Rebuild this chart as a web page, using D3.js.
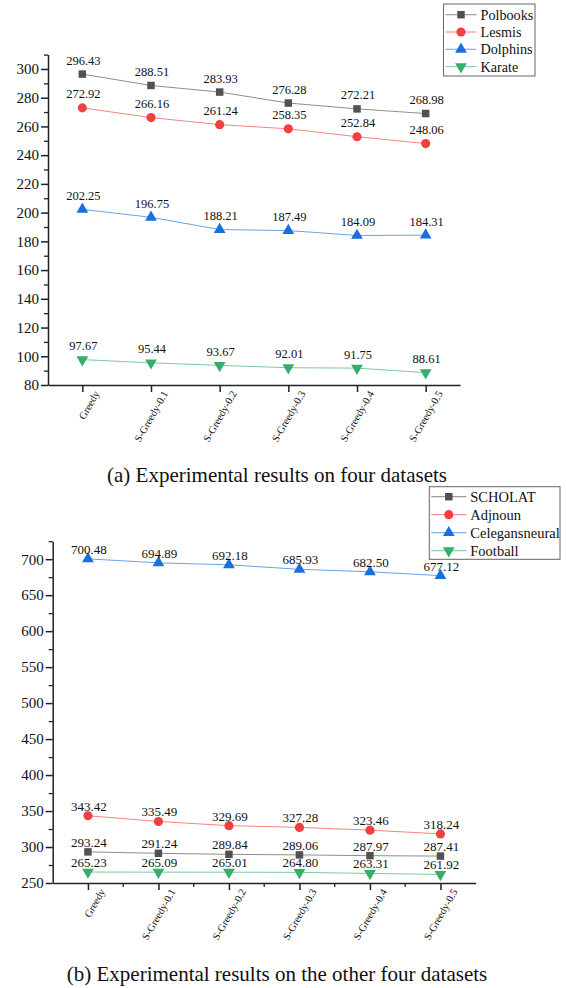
<!DOCTYPE html>
<html>
<head>
<meta charset="utf-8">
<script src="https://cdn.jsdelivr.net/npm/d3@7"></script>
<style>
    body { margin: 0; background: #fff; }
    text { font-family: "Liberation Serif", "Times New Roman", serif; fill: #111; }
</style>
</head>
<body>
<div id="chart"></div>
<script>
const categories = ["Greedy", "S-Greedy-0.1", "S-Greedy-0.2", "S-Greedy-0.3", "S-Greedy-0.4", "S-Greedy-0.5"];

// panel (a)
const polbooks = [296.43, 288.51, 283.93, 276.28, 272.21, 268.98];
const lesmis = [272.92, 266.16, 261.24, 258.35, 252.84, 248.06];
const dolphins = [202.25, 196.75, 188.21, 187.49, 184.09, 184.31];
const karate = [97.67, 95.44, 93.67, 92.01, 91.75, 88.61];
const ticksA = [80, 100, 120, 140, 160, 180, 200, 220, 240, 260, 280, 300];

// panel (b)
const scholat = [293.24, 291.24, 289.84, 289.06, 287.97, 287.41];
const adjnoun = [343.42, 335.49, 329.69, 327.28, 323.46, 318.24];
const celegansneural = [700.48, 694.89, 692.18, 685.93, 682.50, 677.12];
const football = [265.23, 265.09, 265.01, 264.80, 263.31, 261.92];
const ticksB = [250, 300, 350, 400, 450, 500, 550, 600, 650, 700];

const fmt = d3.format(".2f");
const colors = ["#515151", "#F14040", "#1A6FDF", "#37AD6B"];
const symbols = [
    {type: d3.symbolSquare, size: 56, rot: 0},
    {type: d3.symbolCircle, size: 66, rot: 0},
    {type: d3.symbolTriangle, size: 60, rot: 0},
    {type: d3.symbolTriangle, size: 60, rot: 180}
];

const svg = d3.select("#chart").append("svg")
    .attr("width", 566)
    .attr("height", 988);

function marker(sel, i, cx, cy) {
    const s = symbols[i];
    sel.append("path")
        .attr("d", d3.symbol().type(s.type).size(s.size)())
        .attr("transform", `translate(${cx},${cy}) rotate(${s.rot})`)
        .attr("fill", colors[i]);
}

function drawPanel(opt) {
    const x = d3.scalePoint().domain(categories).range([opt.left, opt.right]).padding(0.5);
    const y = d3.scaleLinear().domain(opt.yDomain).range([opt.bottom, opt.top]);
    const g = svg.append("g");

    // minor y ticks
    g.append("g")
        .attr("transform", `translate(${opt.left},0)`)
        .call(d3.axisLeft(y).tickValues(opt.minor).tickSize(4).tickFormat(""))
        .call(a => a.select(".domain").remove())
        .selectAll("line").attr("stroke", "#222").attr("stroke-width", 1.3);

    const yAxis = g.append("g")
        .attr("transform", `translate(${opt.left},0)`)
        .call(d3.axisLeft(y).tickValues(opt.ticks).tickSize(7).tickSizeOuter(0).tickPadding(2));
    yAxis.selectAll("text").attr("font-size", 15).attr("font-family", "Liberation Serif").attr("fill", "#111");
    yAxis.selectAll("line, path").attr("stroke", "#222").attr("stroke-width", 1.5);

    const xAxis = g.append("g")
        .attr("transform", `translate(0,${opt.bottom})`)
        .call(d3.axisBottom(x).tickSize(7).tickSizeOuter(0));
    xAxis.selectAll("line, path").attr("stroke", "#222").attr("stroke-width", 1.5);
    xAxis.selectAll("text")
        .attr("x", 0).attr("y", 0).attr("dy", null)
        .attr("text-anchor", "end")
        .attr("transform", "translate(17,8.5) rotate(-60)")
        .attr("font-size", 10.5)
        .attr("font-family", "Liberation Serif")
        .attr("fill", "#111");

    if (opt.xMinor) {
        const step = x.step();
        g.append("g").selectAll("line")
            .data(categories.slice(0, -1))
            .join("line")
            .attr("x1", d => x(d) + step / 2).attr("x2", d => x(d) + step / 2)
            .attr("y1", opt.bottom).attr("y2", opt.bottom + 4)
            .attr("stroke", "#222").attr("stroke-width", 1.3);
    }

    const line = d3.line().x((d, i) => x(categories[i])).y(d => y(d));

    opt.series.forEach((s, si) => {
        g.append("path")
            .datum(s.values)
            .attr("d", line)
            .attr("fill", "none")
            .attr("stroke", colors[si])
            .attr("stroke-opacity", 0.65)
            .attr("stroke-width", 1);
    });

    opt.series.forEach((s, si) => {
        s.values.forEach((v, i) => marker(g, si, x(categories[i]), y(v)));
        g.append("g").selectAll("text")
            .data(s.values)
            .join("text")
            .attr("x", (d, i) => x(categories[i]) + 1)
            .attr("y", d => y(d) - opt.labelGap)
            .attr("text-anchor", "middle")
            .attr("font-size", opt.labelSize)
            .text(d => fmt(d));
    });

    // legend
    const lg = opt.legend;
    const leg = g.append("g");
    leg.append("rect")
        .attr("x", lg.x).attr("y", lg.y)
        .attr("width", lg.w).attr("height", lg.h)
        .attr("fill", "#fff").attr("stroke", "#666").attr("stroke-width", 1);
    opt.series.forEach((s, si) => {
        const cy = lg.y + lg.first + si * lg.gap;
        leg.append("line")
            .attr("x1", lg.x + 2).attr("x2", lg.x + 2 + lg.lineLen)
            .attr("y1", cy).attr("y2", cy)
            .attr("stroke", colors[si]).attr("stroke-opacity", 0.55).attr("stroke-width", 1.2);
        marker(leg, si, lg.x + 2 + lg.lineLen / 2, cy);
        leg.append("text")
            .attr("x", lg.x + lg.lineLen + 6)
            .attr("y", cy + 5)
            .attr("font-size", lg.size)
            .text(s.name);
    });

    svg.append("text")
        .attr("x", 277)
        .attr("y", opt.captionY)
        .attr("text-anchor", "middle")
        .attr("font-size", 21)
        .text(opt.caption);
}

drawPanel({
    left: 48, right: 460, top: 54.6, bottom: 385,
    yDomain: [80, 310],
    ticks: ticksA,
    minor: d3.range(90, 311, 20),
    xMinor: false,
    labelGap: 9.5, labelSize: 12.5,
    series: [
        {name: "Polbooks", values: polbooks},
        {name: "Lesmis", values: lesmis},
        {name: "Dolphins", values: dolphins},
        {name: "Karate", values: karate}
    ],
    legend: {x: 443.5, y: 4, w: 91.5, h: 72, first: 10.7, gap: 17.3, lineLen: 31, size: 14.2},
    caption: "(a) Experimental results on four datasets",
    captionY: 482
});

drawPanel({
    left: 52.7, right: 475.7, top: 541.2, bottom: 883,
    yDomain: [250, 725],
    ticks: ticksB,
    minor: d3.range(275, 726, 50),
    xMinor: true,
    labelGap: 5, labelSize: 13,
    series: [
        {name: "SCHOLAT", values: scholat},
        {name: "Adjnoun", values: adjnoun},
        {name: "Celegansneural", values: celegansneural},
        {name: "Football", values: football}
    ],
    legend: {x: 429.3, y: 486.7, w: 130.7, h: 72.6, first: 10, gap: 18, lineLen: 35, size: 14.5},
    caption: "(b) Experimental results on the other four datasets",
    captionY: 981
});
</script>
</body>
</html>
